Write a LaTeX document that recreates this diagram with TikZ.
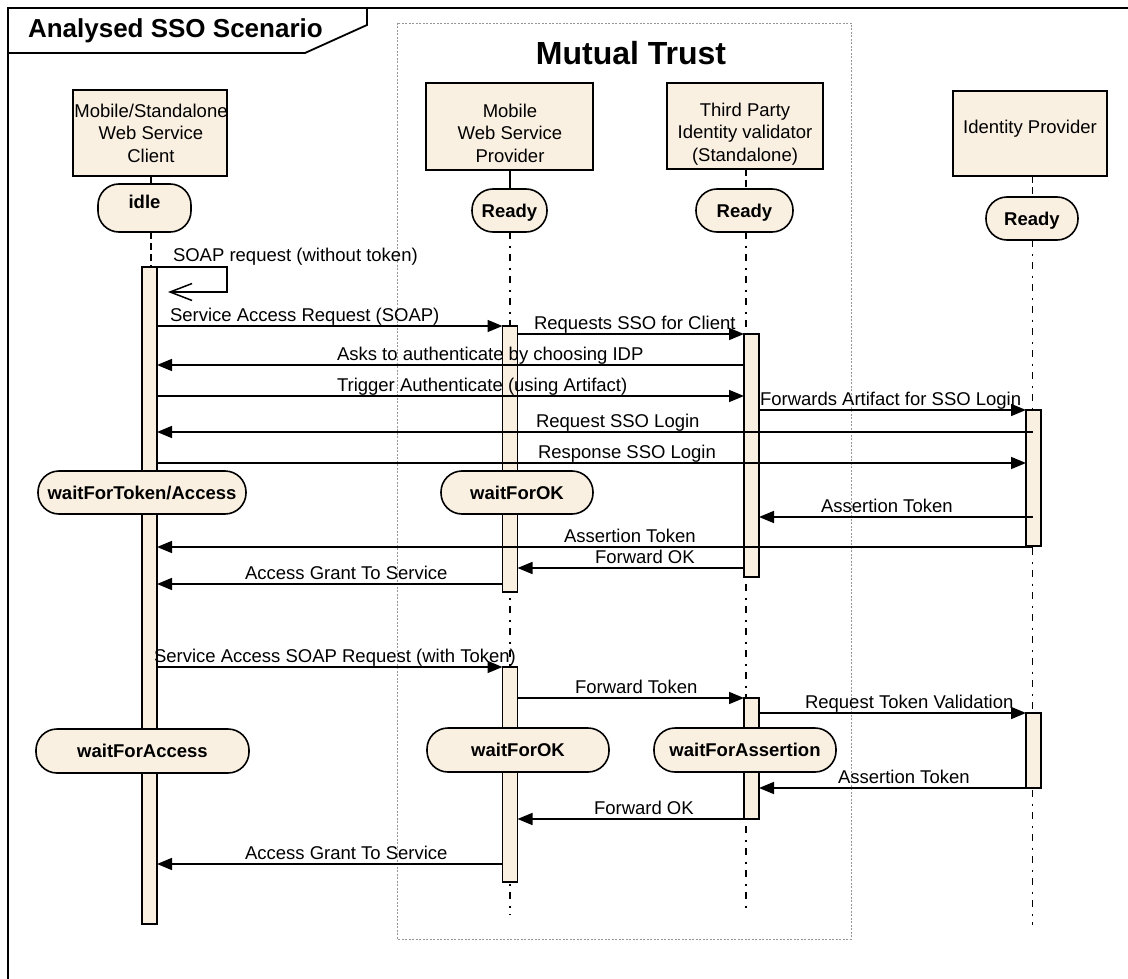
\documentclass[tikz,border=0pt]{standalone}
\usepackage{fontspec}
\setmainfont{Liberation Sans}
\usetikzlibrary{arrows.meta}

\definecolor{paper}{RGB}{250,240,226}
\definecolor{trustgray}{RGB}{150,150,150}

% one message: name, from-anchor, to-anchor, y, label x, label text
\newcommand\msgarrow[6]{%
  \draw[msg] (#2 |- 0,#4) -- (#3 |- 0,#4);
  \node[lbl] (#1) at (#5,#4-4.5) {#6};}

\begin{document}
\begin{tikzpicture}[x=1pt,y=-1pt,
  every node/.style={inner sep=0pt, outer sep=0pt},
  lbl/.style={font=\fontsize{18.5}{22}\selectfont, anchor=base west},
  hdr/.style={draw, line width=1.8pt, fill=paper, rectangle},
  hdrtxt/.style={font=\fontsize{18.5}{22.5}\selectfont, align=center},
  state/.style={draw, line width=1.6pt, fill=paper, rectangle, rounded corners=21pt,
    font=\bfseries\fontsize{18.5}{22}\selectfont, text height=13.3pt, text depth=0pt},
  act/.style={draw, line width=1.6pt, fill=paper, rectangle, minimum width=15pt},
  msg/.style={line width=1.6pt, -{Triangle[length=15pt,width=12pt]}},
  solidlife/.style={line width=1.5pt},
  dashlife/.style={line width=1.5pt, dash pattern=on 7pt off 4pt},
  dashdot/.style={line width=1.5pt, dash pattern=on 7pt off 6.5pt on 2pt off 6.5pt},
]
\useasboundingbox (0,0) rectangle (1128,979);
\clip (0,0) rectangle (1128,979);
\fill[white] (0,0) rectangle (1128,979);

% outer frame and its title tab
\draw[line width=2.2pt] (8,995) -- (8,8) -- (1140,8);
\draw[line width=1.8pt] (8,53) -- (305,53) -- (367,25) -- (367,8);
\node[anchor=base west, font=\bfseries\fontsize{26}{30}\selectfont] (title) at (28,38) {Analysed SSO Scenario};

% trust boundary
\draw[trustgray, line width=0.9pt, dash pattern=on 2pt off 1.5pt] (397,23) rectangle (851,939);
\node[anchor=base, font=\bfseries\fontsize{32}{36}\selectfont] (trust) at (631,65) {Mutual Trust};

% lifeline ends
\coordinate (cend) at (151,924);
\coordinate (pend) at (510,915);
\coordinate (tend) at (746,913);
\coordinate (iend) at (1032.5,925);

% participants
\node[hdr, minimum width=154, minimum height=86] (cbox) at (150,133) {};
\node[hdrtxt] (ctxt) at (151,133) {Mobile/Standalone\\Web Service\\Client};
\node[hdr, minimum width=167, minimum height=87] (pbox) at (509.5,126.5) {};
\node[hdrtxt] (ptxt) at (510,133) {Mobile\\Web Service\\Provider};
\node[hdr, minimum width=156, minimum height=86] (tbox) at (745,126) {};
\node[hdrtxt] (ttxt) at (745,134) {Third Party\\Identity validator\\(Standalone)};
\node[hdr, minimum width=154, minimum height=85] (ibox) at (1030,133.5) {};
\node[hdrtxt, anchor=base] (itxt) at (1030,133.5) {Identity Provider};

% initial states
\node[state, minimum width=93, minimum height=48, text depth=13pt] (idle) at (144.5,208) {idle};
\node[state, minimum width=75, minimum height=43] (pready) at (509.5,210.5) {Ready};
\node[state, minimum width=97, minimum height=43] (tready) at (744.5,210.5) {Ready};
\node[state, minimum width=92, minimum height=43] (iready) at (1032,218.5) {Ready};

% lifelines
\draw[solidlife] (cbox.south -| cend) -- (idle.north -| cend);
\draw[dashlife] (idle.south -| cend) -- (cend |- 0,267);
\draw[solidlife] (pbox.south -| pend) -- (pready.north -| pend);
\draw[dashdot] (pready.south -| pend) -- (pend);
\draw[dashlife] (tbox.south -| tend) -- (tready.north -| tend);
\draw[dashdot] (tready.south -| tend) -- (tend);
\draw[dashlife] (ibox.south -| iend) -- (iready.north -| iend);
\draw[dashdot] (iready.south -| iend) -- (iend);

% activation bars
\node[act, minimum height=657] (cbar) at (149.5,595.5) {};
\node[act, minimum height=266] (pbar1) at (510,459) {};
\node[act, minimum height=215] (pbar2) at (510,774.5) {};
\node[act, minimum height=243] (tbar1) at (751.5,455.5) {};
\node[act, minimum height=121] (tbar2) at (751.5,758.5) {};
\node[act, minimum height=136] (ibar1) at (1033.5,478) {};
\node[act, minimum height=75] (ibar2) at (1033.5,750.5) {};

% self call
\coordinate (selfend) at (168,292);
\draw[line width=1.5pt, -{Straight Barb[length=22pt,width=17pt]}]
  (cbar.north east) -- ++(70,0) -- ++(0,25) -- (selfend);
\node[lbl] (m1) at (173,261) {SOAP request (without token)};

% first exchange
\msgarrow{m2}{cbar.east}{pbar1.west}{326}{170}{Service Access Request (SOAP)}
\msgarrow{m3}{pbar1.east}{tbar1.west}{334}{534}{Requests SSO for Client}
\msgarrow{m4}{tbar1.west}{cbar.east}{365}{337}{Asks to authenticate by choosing IDP}
\msgarrow{m5}{cbar.east}{tbar1.west}{396}{337}{Trigger Authenticate (using Artifact)}
\msgarrow{m6}{tbar1.east}{ibar1.west}{410}{760}{Forwards Artifact for SSO Login}
\msgarrow{m7}{iend}{cbar.east}{432}{536}{Request SSO Login}
\msgarrow{m8}{cbar.east}{ibar1.west}{463}{538}{Response SSO Login}
\msgarrow{m9}{iend}{tbar1.east}{517}{821}{Assertion Token}
\msgarrow{m10}{iend}{cbar.east}{547}{564}{Assertion Token}
\msgarrow{m11}{tbar1.west}{pbar1.east}{568}{595}{Forward OK}
\msgarrow{m12}{pbar1.west}{cbar.east}{584}{245}{Access Grant To Service}

% second exchange
\msgarrow{m13}{cbar.east}{pbar2.west}{667}{154}{Service Access SOAP Request (with Token)}
\msgarrow{m14}{pbar2.east}{tbar2.west}{698}{575}{Forward Token}
\msgarrow{m15}{tbar2.east}{ibar2.west}{713}{805}{Request Token Validation}
\msgarrow{m16}{iend}{tbar2.east}{788}{838}{Assertion Token}
\msgarrow{m17}{tbar2.west}{pbar2.east}{819}{594}{Forward OK}
\msgarrow{m18}{pbar2.west}{cbar.east}{864}{245}{Access Grant To Service}

% intermediate states
\node[state, minimum width=208, minimum height=43] (wtok) at (142,492.5) {waitForToken/Access};
\node[state, minimum width=152, minimum height=43] (wok1) at (517,492.5) {waitForOK};
\node[state, minimum width=213, minimum height=44] (wacc) at (142.5,751) {waitForAccess};
\node[state, minimum width=182, minimum height=44] (wok2) at (518,750) {waitForOK};
\node[state, minimum width=182, minimum height=44] (wass) at (745,750) {waitForAssertion};
\end{tikzpicture}
\end{document}
